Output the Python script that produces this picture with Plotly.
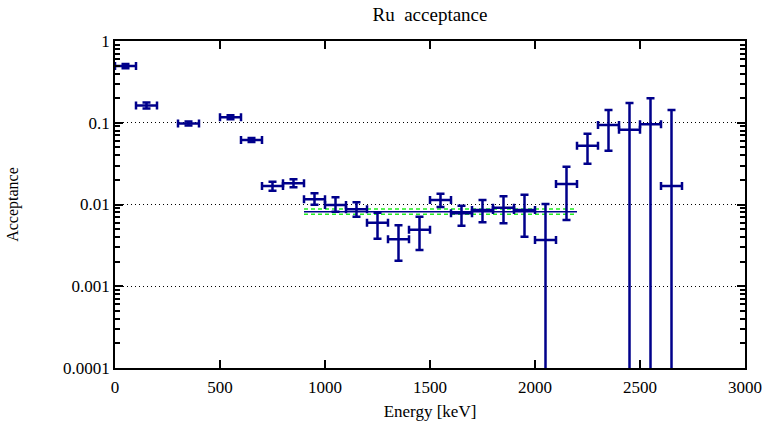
import plotly.graph_objects as go

energy = [50, 150, 350, 550, 650, 750, 850, 950, 1050, 1150, 1250, 1350, 1450,
          1550, 1650, 1750, 1850, 1950, 2050, 2150, 2250, 2350, 2450, 2550, 2650]
acc = [0.494, 0.163, 0.098, 0.117, 0.0615, 0.0168, 0.0182, 0.0116, 0.00986, 0.00873,
       0.0060, 0.00375, 0.00492, 0.01135, 0.0078, 0.00857, 0.00914, 0.00857, 0.00368,
       0.0178, 0.0524, 0.094, 0.0822, 0.0957, 0.0168]
acc_hi = [0.525, 0.1775, 0.1037, 0.1238, 0.0651, 0.0190, 0.0203, 0.0137, 0.01225, 0.01064,
          0.00794, 0.00557, 0.0071, 0.01355, 0.00966, 0.01135, 0.0126, 0.0132, 0.01014,
          0.029, 0.0735, 0.143, 0.1745, 0.199, 0.143]
acc_lo = [0.465, 0.1497, 0.0926, 0.1106, 0.0581, 0.01475, 0.0162, 0.00995, 0.00817, 0.0071,
          0.00382, 0.00205, 0.00277, 0.0093, 0.00551, 0.00606, 0.00589, 0.00404, 0.0,
          0.00646, 0.0316, 0.0455, 0.0, 0.0, 0.0]
bin_half = [50] * len(energy)

fit_x = [900, 2200]
fit_val = 0.00817
fit_hi = 0.00881
fit_lo = 0.00759

xtick_vals = [0, 500, 1000, 1500, 2000, 2500, 3000]
ytick_vals = [1, 0.1, 0.01, 0.001, 0.0001]
ytick_text = ["1", "0.1", "0.01", "0.001", "0.0001"]
yminor_vals = [m * 10 ** e for e in range(-4, 0) for m in range(2, 10)]

navy = "#00008b"
green = "#22ee22"
font = "Liberation Serif"

err_plus = [h - a for h, a in zip(acc_hi, acc)]
err_minus = [a - l for a, l in zip(acc, acc_lo)]

fig = go.Figure()

fig.add_trace(go.Scatter(
    x=fit_x, y=[fit_hi] * 2, mode="lines",
    line=dict(color=green, width=1.5, dash="4px,3px"), hoverinfo="skip"))
fig.add_trace(go.Scatter(
    x=fit_x, y=[fit_lo] * 2, mode="lines",
    line=dict(color=green, width=1.5, dash="4px,3px"), hoverinfo="skip"))
fig.add_trace(go.Scatter(
    x=fit_x, y=[fit_val] * 2, mode="lines",
    line=dict(color=navy, width=1.5), hoverinfo="skip"))

fig.add_trace(go.Scatter(
    x=energy, y=acc, mode="markers",
    marker=dict(color=navy, size=1, opacity=0),
    error_y=dict(type="data", symmetric=False, array=err_plus, arrayminus=err_minus,
                 color=navy, thickness=2.5, width=4),
    error_x=dict(type="data", array=bin_half, color=navy, thickness=2.5, width=4),
))

# empty helper traces so the minor-tick overlay axes are rendered
fig.add_trace(go.Scatter(x=[None], y=[None], yaxis="y2", mode="lines", hoverinfo="skip"))
fig.add_trace(go.Scatter(x=[None], y=[None], yaxis="y3", mode="lines", hoverinfo="skip"))

axis_common = dict(
    showline=True, linecolor="black", linewidth=1.5, mirror="ticks",
    ticks="inside", tickcolor="black", tickwidth=1.5,
    tickfont=dict(family=font, size=17, color="black"),
    zeroline=False, automargin=False,
)

fig.update_xaxes(
    range=[0, 3000], tickvals=xtick_vals, ticklen=8, showgrid=False,
    ticklabelstandoff=3,
    title=dict(text="Energy [keV]", font=dict(family=font, size=17, color="black"), standoff=10),
    **axis_common)

minor_axis = dict(
    type="log", range=[-4, 0], overlaying="y", anchor="x",
    tickmode="array", tickvals=yminor_vals, showticklabels=False,
    ticks="inside", ticklen=5, tickwidth=1.5, tickcolor="black",
    showgrid=False, showline=False, zeroline=False, automargin=False,
)

fig.update_layout(
    yaxis=dict(
        type="log", range=[-4, 0], tickvals=ytick_vals, ticktext=ytick_text, ticklen=8,
        showgrid=True, gridcolor="black", gridwidth=1, griddash="1px,3px",
        title=dict(text="Acceptance", font=dict(family=font, size=16, color="black"), standoff=40),
        **axis_common),
    yaxis2=dict(side="left", **minor_axis),
    yaxis3=dict(side="right", **minor_axis),
    width=767, height=421,
    margin=dict(l=115, r=22, t=41, b=53),
    paper_bgcolor="white", plot_bgcolor="white",
    showlegend=False,
    title=dict(text="Ru  acceptance", x=0.5, xref="paper", xanchor="center", y=1 - 14 / 421,
               yanchor="middle", yref="container",
               font=dict(family=font, size=19, color="black")),
)

fig.write_html("out.html")
